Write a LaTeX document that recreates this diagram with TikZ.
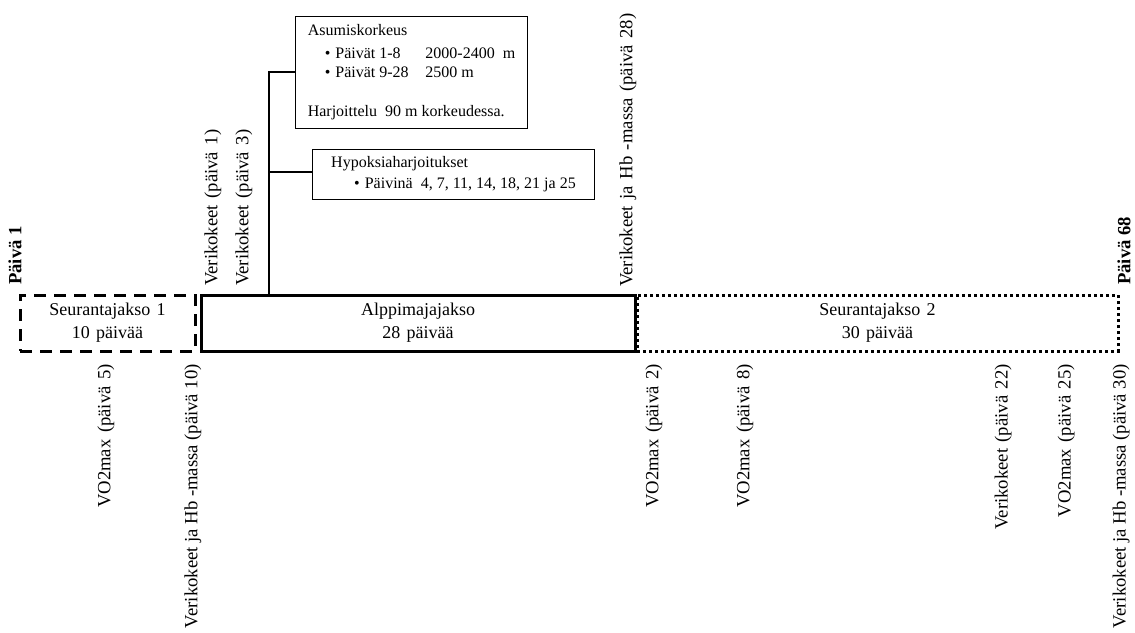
\documentclass[tikz,border=0pt]{standalone}
\usepackage{fontspec}
\setmainfont{Liberation Serif}
% Times-like faces with the generous word gaps of the original layout
\newfontfamily\widefont[WordSpace=1.7]{Liberation Serif}
\newfontfamily\markfont[WordSpace=1.4]{Liberation Serif}
\begin{document}
\begin{tikzpicture}[x=1pt,y=-1pt,
  period/.style={draw,line width=3pt,minimum height=56pt,inner sep=0pt,align=center,
    font=\widefont\fontsize{18}{23}\selectfont},
  infobox/.style={draw,line width=1pt,anchor=north west,align=left,inner xsep=8pt,
    font=\fontsize{16}{20}\selectfont},
  mark up/.style={rotate=90,anchor=west,inner sep=0pt,
    font=\markfont\fontsize{18.67}{20}\selectfont},
  mark down/.style={rotate=90,anchor=east,inner sep=0pt,
    font=\markfont\fontsize{18.67}{20}\selectfont},
  long mark/.style={mark down,font=\fontsize{18.67}{20}\selectfont},
  dayhead/.style={mark up,font=\fontsize{18.67}{20}\selectfont\bfseries},
  link/.style={line width=2.5pt}
]
\useasboundingbox (0,0) rectangle (1135,632);

% the three periods of the study
\node[period,dashed,dash pattern=on 12pt off 8pt,minimum width=175pt] (s1) at (107.5,323)
  {Seurantajakso 1\\10 päivää};
\node[period,minimum width=434pt] (alp) at (418,323)
  {Alppimajajakso\\28 päivää};
\node[period,dash pattern=on 3pt off 3pt,minimum width=481pt] (s2) at (877.5,323)
  {Seurantajakso 2\\30 päivää};

% details of the altitude period
\node[infobox,minimum width=232pt,inner ysep=8pt] (asum) at (295,16)
  {Asumiskorkeus\\[3pt]%
   \hspace*{17pt}\textbullet\hspace{5pt}\makebox[90pt][l]{Päivät 1-8}2000-2400\ \ m\\[-1pt]%
   \hspace*{17pt}\textbullet\hspace{5pt}\makebox[90pt][l]{Päivät 9-28}2500 m\\[19pt]%
   Harjoittelu\ \ 90 m korkeudessa.};
\node[infobox,minimum width=282pt,minimum height=50pt,inner ysep=6pt] (hyp) at (312,149)
  {Hypoksiaharjoitukset\\[1pt]%
   \hspace*{23pt}\textbullet\hspace{5pt}Päivinä\ \ 4, 7, 11, 14, 18, 21 ja 25};

% bracket from the altitude period to its details
\coordinate (root) at (269,296);
\coordinate (ka) at (269,72);
\coordinate (kh) at (269,172);
\draw[link] (root) -- (ka) -- (ka -| asum.west);
\draw[link] (kh) -- (kh -| hyp.west);

% measurement days above the time line
\node[dayhead] (d1) at (15,285) {Päivä 1};
\node[mark up] (u1) at (213,286) {Verikokeet (päivä 1)};
\node[mark up] (u3) at (244,286) {Verikokeet (päivä 3)};
\node[mark up] (u28) at (628,287) {Verikokeet ja Hb -massa (päivä 28)};
\node[dayhead] (d68) at (1124,285) {Päivä 68};

% measurement days below the time line
\node[mark down] (b5) at (106,364) {VO2max (päivä 5)};
\node[long mark] (b10) at (193,364) {Verikokeet ja Hb -massa (päivä 10)};
\node[mark down] (c2) at (654,364) {VO2max (päivä 2)};
\node[mark down] (c8) at (745,364) {VO2max (päivä 8)};
\node[mark down] (c22) at (1003,364) {Verikokeet (päivä 22)};
\node[mark down] (c25) at (1066,364) {VO2max (päivä 25)};
\node[long mark] (c30) at (1121,364) {Verikokeet ja Hb -massa (päivä 30)};
\end{tikzpicture}
\end{document}
